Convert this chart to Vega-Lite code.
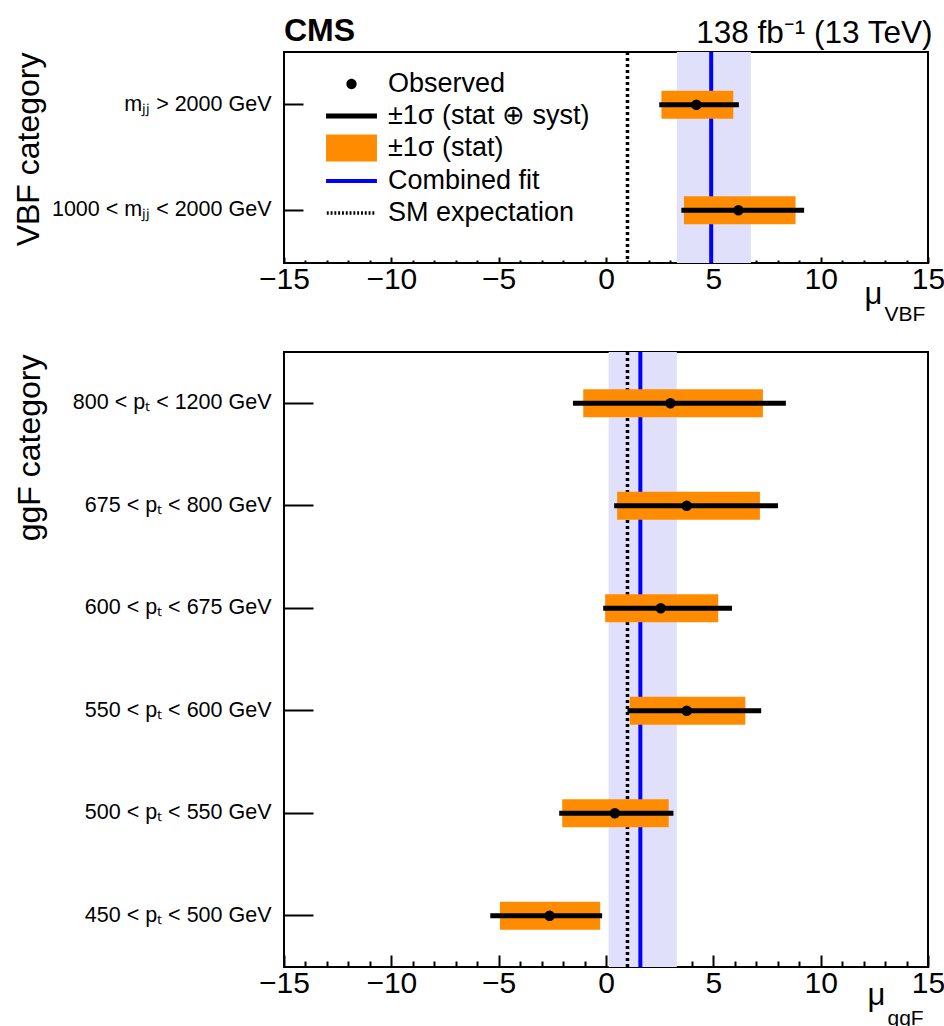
{
  "$schema": "https://vega.github.io/schema/vega-lite/v6.json",
  "background": "white",
  "padding": {"left": 11, "top": 14, "right": 0, "bottom": 0},
  "bounds": "flush",
  "spacing": 89,
  "config": {
    "font": "Liberation Sans",
    "view": {"stroke": "black", "strokeWidth": 2},
    "axis": {"domain": false, "grid": false, "tickColor": "black", "tickWidth": 2, "labelColor": "black", "titleColor": "black", "labelFont": "Liberation Sans", "titleFont": "Liberation Sans", "titleFontWeight": "normal"},
    "title": {"color": "black", "font": "Liberation Sans"}
  },
  "datasets": {
    "vbf": [
      {"cat": "mⱼⱼ > 2000 GeV", "mu": 4.21, "statLo": 2.58, "statHi": 5.93, "totLo": 2.48, "totHi": 6.19},
      {"cat": "1000 < mⱼⱼ < 2000 GeV", "mu": 6.17, "statLo": 3.63, "statHi": 8.83, "totLo": 3.51, "totHi": 9.23}
    ],
    "ggf": [
      {"cat": "800 < pₜ < 1200 GeV", "mu": 3.0, "statLo": -1.06, "statHi": 7.31, "totLo": -1.54, "totHi": 8.38},
      {"cat": "675 < pₜ < 800 GeV", "mu": 3.76, "statLo": 0.52, "statHi": 7.17, "totLo": 0.38, "totHi": 8.01},
      {"cat": "600 < pₜ < 675 GeV", "mu": 2.55, "statLo": -0.04, "statHi": 5.23, "totLo": -0.13, "totHi": 5.87},
      {"cat": "550 < pₜ < 600 GeV", "mu": 3.76, "statLo": 1.11, "statHi": 6.49, "totLo": 1.0, "totHi": 7.23},
      {"cat": "500 < pₜ < 550 GeV", "mu": 0.41, "statLo": -2.04, "statHi": 2.92, "totLo": -2.18, "totHi": 3.14},
      {"cat": "450 < pₜ < 500 GeV", "mu": -2.63, "statLo": -4.94, "statHi": -0.27, "totLo": -5.39, "totHi": -0.18}
    ],
    "fitVBF": [{"mu": 4.9, "lo": 3.3, "hi": 6.75, "sm": 1}],
    "fitGGF": [{"mu": 1.6, "lo": 0.12, "hi": 3.3, "sm": 1}],
    "legend": [
      {"item": "Observed"},
      {"item": "±1σ (stat ⊕ syst)"},
      {"item": "±1σ (stat)"},
      {"item": "Combined fit"},
      {"item": "SM expectation"}
    ]
  },
  "vconcat": [
    {
      "width": 644,
      "height": 211,
      "title": {"text": "CMS", "anchor": "start", "frame": "group", "fontSize": 32, "fontWeight": "bold", "baseline": "alphabetic", "offset": -56},
      "resolve": {"axis": {"x": "independent"}},
      "layer": [
        {
          "data": {"name": "fitVBF"},
          "mark": {"type": "rect", "color": "#e0e0fb"},
          "encoding": {
            "x": {"field": "lo", "type": "quantitative", "scale": {"domain": [-15, 15], "nice": false, "zero": false}, "axis": {
              "orient": "top", "ticks": false, "labels": false, "domain": false,
              "title": "138 fb⁻¹ (13 TeV)", "titleFontSize": 31.5, "titleX": 648, "titleY": -10, "titleAlign": "right", "titleBaseline": "alphabetic"
            }},
            "x2": {"field": "hi"}
          }
        },
        {
          "data": {"name": "fitVBF"},
          "mark": {"type": "rule", "color": "#0000ff", "strokeWidth": 4},
          "encoding": {"x": {"field": "mu", "type": "quantitative", "axis": null}}
        },
        {
          "data": {"name": "fitVBF"},
          "mark": {"type": "rule", "color": "black", "strokeWidth": 3.5, "strokeDash": [3, 3]},
          "encoding": {"x": {"field": "sm", "type": "quantitative", "axis": null}}
        },
        {
          "data": {"name": "vbf"},
          "mark": {"type": "bar", "color": "#ff8c00", "height": 28},
          "encoding": {
            "x": {"field": "statLo", "type": "quantitative", "axis": {
              "orient": "bottom",
              "values": [-15,-14,-13,-12,-11,-10,-9,-8,-7,-6,-5,-4,-3,-2,-1,0,1,2,3,4,5,6,7,8,9,10,11,12,13,14,15],
              "tickSize": {"condition": {"test": "datum.value % 5 === 0", "value": -6}, "value": -3},
              "labelExpr": "datum.value % 5 === 0 ? datum.label : ''",
              "labelFontSize": 30, "labelPadding": 7, "labelFlush": false, "labelOverlap": false,
              "title": "μ", "titleFontSize": 31, "titleX": 589, "titleY": 40, "titleAlign": "center", "titleBaseline": "alphabetic"
            }},
            "x2": {"field": "statHi"},
            "y": {"field": "cat", "type": "nominal", "sort": null,
              "scale": {"type": "band", "domain": ["mⱼⱼ > 2000 GeV", "1000 < mⱼⱼ < 2000 GeV"], "paddingInner": 0, "paddingOuter": 0},
              "axis": {"title": "VBF category", "titleFontSize": 32, "titleX": -256, "titleY": 0, "titleAngle": 270, "titleAlign": "right", "titleBaseline": "middle",
                "tickSize": -19, "labelPadding": 32, "labelFontSize": 21.5, "labelLimit": 400}}
          }
        },
        {
          "data": {"name": "vbf"},
          "mark": {"type": "rule", "color": "black", "strokeWidth": 5},
          "encoding": {
            "x": {"field": "totLo", "type": "quantitative", "axis": null},
            "x2": {"field": "totHi"},
            "y": {"field": "cat", "type": "nominal", "sort": null}
          }
        },
        {
          "data": {"name": "vbf"},
          "mark": {"type": "circle", "color": "black", "size": 110, "opacity": 1},
          "encoding": {
            "x": {"field": "mu", "type": "quantitative", "axis": {
              "orient": "bottom", "ticks": false, "labels": false, "domain": false,
              "title": "VBF", "titleFontSize": 21, "titleX": 600, "titleY": 57, "titleAlign": "left", "titleBaseline": "alphabetic"
            }},
            "y": {"field": "cat", "type": "nominal", "sort": null}
          }
        },
        {
          "data": {"name": "legend"},
          "mark": {"type": "point", "filled": true, "opacity": 0},
          "encoding": {
            "color": {"field": "item", "type": "nominal",
              "scale": {"domain": ["Observed", "±1σ (stat ⊕ syst)", "±1σ (stat)", "Combined fit", "SM expectation"], "range": ["black", "black", "#ff8c00", "#0000ff", "black"]},
              "legend": {"orient": "none", "legendX": 48.5, "legendY": 13, "direction": "vertical", "title": null, "labelFontSize": 27, "labelFont": "Liberation Sans", "labelColor": "black", "labelLimit": 400, "symbolSize": 1444, "symbolStrokeWidth": 0, "symbolOpacity": 1, "rowPadding": 0, "labelOffset": 17.5, "padding": 0}},
            "shape": {"field": "item", "type": "nominal",
              "scale": {"domain": ["Observed", "±1σ (stat ⊕ syst)", "±1σ (stat)", "Combined fit", "SM expectation"],
                "range": [
                  "M-0.27,0A0.27,0.27,0,1,0,0.27,0A0.27,0.27,0,1,0,-0.27,0Z",
                  "M-1.34,-0.13H1.34V0.13H-1.34Z",
                  "M-1.34,-0.71H1.34V0.71H-1.34Z",
                  "M-1.34,-0.1H1.34V0.1H-1.34Z",
                  "M-1.3,-0.09h0.1v0.18h-0.1zM-1.1,-0.09h0.1v0.18h-0.1zM-0.9,-0.09h0.1v0.18h-0.1zM-0.7,-0.09h0.1v0.18h-0.1zM-0.5,-0.09h0.1v0.18h-0.1zM-0.3,-0.09h0.1v0.18h-0.1zM-0.1,-0.09h0.1v0.18h-0.1zM0.1,-0.09h0.1v0.18h-0.1zM0.3,-0.09h0.1v0.18h-0.1zM0.5,-0.09h0.1v0.18h-0.1zM0.7,-0.09h0.1v0.18h-0.1zM0.9,-0.09h0.1v0.18h-0.1zM1.1,-0.09h0.1v0.18h-0.1z"
                ]},
              "legend": {"orient": "none", "legendX": 48.5, "legendY": 13, "direction": "vertical", "title": null, "labelFontSize": 27, "labelFont": "Liberation Sans", "labelColor": "black", "labelLimit": 400, "symbolSize": 1444, "symbolStrokeWidth": 0, "symbolOpacity": 1, "rowPadding": 0, "labelOffset": 17.5, "padding": 0}}
          }
        }
      ]
    },
    {
      "width": 644,
      "height": 615,
      "resolve": {"axis": {"x": "independent"}},
      "layer": [
        {
          "data": {"name": "fitGGF"},
          "mark": {"type": "rect", "color": "#e0e0fb"},
          "encoding": {
            "x": {"field": "lo", "type": "quantitative", "scale": {"domain": [-15, 15], "nice": false, "zero": false}, "axis": null},
            "x2": {"field": "hi"}
          }
        },
        {
          "data": {"name": "fitGGF"},
          "mark": {"type": "rule", "color": "#0000ff", "strokeWidth": 4},
          "encoding": {"x": {"field": "mu", "type": "quantitative", "axis": null}}
        },
        {
          "data": {"name": "fitGGF"},
          "mark": {"type": "rule", "color": "black", "strokeWidth": 3.5, "strokeDash": [3, 3]},
          "encoding": {"x": {"field": "sm", "type": "quantitative", "axis": null}}
        },
        {
          "data": {"name": "ggf"},
          "mark": {"type": "bar", "color": "#ff8c00", "height": 28},
          "encoding": {
            "x": {"field": "statLo", "type": "quantitative", "axis": {
              "orient": "bottom",
              "values": [-15,-14,-13,-12,-11,-10,-9,-8,-7,-6,-5,-4,-3,-2,-1,0,1,2,3,4,5,6,7,8,9,10,11,12,13,14,15],
              "tickSize": {"condition": {"test": "datum.value % 5 === 0", "value": -12}, "value": -6},
              "labelExpr": "datum.value % 5 === 0 ? datum.label : ''",
              "labelFontSize": 30, "labelPadding": 13, "labelFlush": false, "labelOverlap": false,
              "title": "μ", "titleFontSize": 31, "titleX": 592, "titleY": 37, "titleAlign": "center", "titleBaseline": "alphabetic"
            }},
            "x2": {"field": "statHi"},
            "y": {"field": "cat", "type": "nominal", "sort": null,
              "scale": {"type": "band", "domain": ["800 < pₜ < 1200 GeV", "675 < pₜ < 800 GeV", "600 < pₜ < 675 GeV", "550 < pₜ < 600 GeV", "500 < pₜ < 550 GeV", "450 < pₜ < 500 GeV"], "paddingInner": 0, "paddingOuter": 0},
              "axis": {"title": "ggF category", "titleFontSize": 32, "titleX": -255, "titleY": 2, "titleAngle": 270, "titleAlign": "right", "titleBaseline": "middle",
                "tickSize": -29, "labelPadding": 42, "labelFontSize": 21.5, "labelLimit": 400}}
          }
        },
        {
          "data": {"name": "ggf"},
          "mark": {"type": "rule", "color": "black", "strokeWidth": 5},
          "encoding": {
            "x": {"field": "totLo", "type": "quantitative", "axis": null},
            "x2": {"field": "totHi"},
            "y": {"field": "cat", "type": "nominal", "sort": null}
          }
        },
        {
          "data": {"name": "ggf"},
          "mark": {"type": "circle", "color": "black", "size": 110, "opacity": 1},
          "encoding": {
            "x": {"field": "mu", "type": "quantitative", "axis": {
              "orient": "bottom", "ticks": false, "labels": false, "domain": false,
              "title": "ggF", "titleFontSize": 21, "titleX": 603, "titleY": 57, "titleAlign": "left", "titleBaseline": "alphabetic"
            }},
            "y": {"field": "cat", "type": "nominal", "sort": null}
          }
        }
      ]
    }
  ]
}
